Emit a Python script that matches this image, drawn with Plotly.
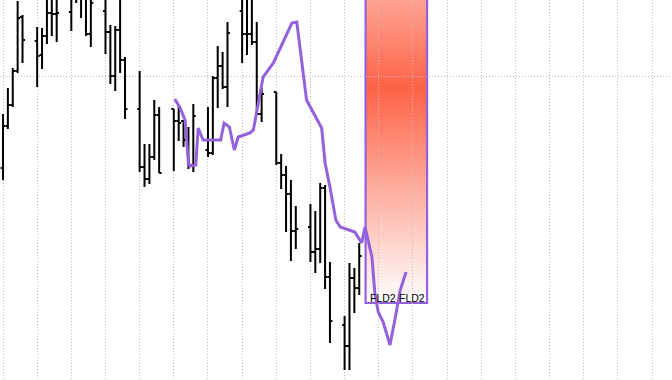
import pandas as pd
import plotly.graph_objects as go

# ---------------- data ----------------
dates = [
    "2024-01-01", "2024-01-02", "2024-01-03", "2024-01-04", "2024-01-05",
    "2024-01-08", "2024-01-09", "2024-01-10", "2024-01-11", "2024-01-12",
    "2024-01-15", "2024-01-16", "2024-01-17", "2024-01-18", "2024-01-19",
    "2024-01-22", "2024-01-23", "2024-01-24", "2024-01-25", "2024-01-26",
    "2024-01-29", "2024-01-30", "2024-01-31", "2024-02-01", "2024-02-02",
    "2024-02-05", "2024-02-06", "2024-02-07", "2024-02-08", "2024-02-09",
    "2024-02-12", "2024-02-13", "2024-02-14", "2024-02-15", "2024-02-16",
    "2024-02-19", "2024-02-20", "2024-02-21", "2024-02-22", "2024-02-23",
    "2024-02-26", "2024-02-27", "2024-02-28", "2024-02-29", "2024-03-01",
    "2024-03-04", "2024-03-05", "2024-03-06", "2024-03-07", "2024-03-08",
    "2024-03-11", "2024-03-12", "2024-03-13", "2024-03-14",
]
open_ = [
    90.8, 95.0, 97.1, 100.5, 105.9,
    103.5, 102.1, 104.0, 106.3, 106.2,
    106.4, 108.2, 108.5, 108.0, 104.2,
    106.5, 104.4, 100.0, 104.6, 101.6,
    96.7, 90.9, 89.7, 91.9, 96.1,
    96.7, 95.5, 95.5, 93.6, 91.1,
    92.6, 92.3, 99.8, 101.0, 98.9,
    106.5, 104.2, 104.2, 103.4, 96.2,
    98.4, 91.3, 90.1, 88.2, 84.5,
    84.9, 82.4, 82.7, 88.8, 79.9,
    75.1, 73.0, 79.8, 78.8,
]
high = [
    96.2, 98.8, 100.8, 107.5, 106.1,
    104.9, 104.8, 108.6, 108.6, 108.6,
    109.0, 109.5, 109.5, 109.0, 109.0,
    108.5, 105.1, 105.0, 108.0, 101.9,
    100.5, 93.2, 93.2, 97.6, 96.9,
    96.7, 97.1, 95.6, 94.9, 97.2,
    96.9, 100.0, 103.0, 102.4, 105.4,
    108.5, 108.5, 108.5, 105.4, 98.8,
    98.4, 92.2, 91.0, 89.6, 87.0,
    87.2, 86.5, 89.3, 89.1, 81.4,
    76.0, 81.3, 80.8, 83.3,
]
low = [
    89.6, 94.7, 96.9, 100.3, 101.3,
    98.9, 100.7, 103.2, 104.0, 103.4,
    104.5, 107.3, 105.8, 104.0, 102.9,
    102.2, 99.2, 98.5, 100.3, 95.7,
    90.4, 88.9, 89.2, 91.6, 90.3,
    90.5, 93.5, 92.9, 90.7, 90.4,
    91.9, 92.1, 96.8, 98.7, 96.9,
    101.3, 102.1, 103.1, 96.2, 95.4,
    91.1, 88.7, 84.4, 81.5, 82.7,
    81.4, 80.3, 81.3, 78.7, 73.3,
    70.6, 70.6, 76.3, 78.1,
]
close = [
    95.0, 97.1, 100.5, 105.8, 103.6,
    102.0, 104.0, 106.3, 106.2, 106.3,
    108.0, 108.8, 107.9, 104.2, 107.3,
    104.4, 100.0, 104.6, 101.6, 96.7,
    90.9, 89.7, 91.9, 96.1, 90.3,
    95.5, 95.3, 93.6, 91.1, 96.0,
    92.3, 99.8, 101.0, 98.9, 104.3,
    104.2, 104.2, 103.4, 96.2, 98.2,
    91.3, 90.1, 88.2, 84.5, 84.7,
    82.4, 82.7, 88.8, 79.9, 75.5,
    73.0, 79.8, 78.8, 82.0,
]

# FLD2 line: offset in days from the first date, and value
fld_days = [
    35.2, 36.3, 37.3, 38.0, 38.3, 39.5, 40.0, 41.0, 44.6, 45.3,
    46.4, 47.4, 48.2, 50.6, 51.3, 51.6, 52.5, 53.3, 55.4, 59.2,
    60.2, 61.2, 62.2, 63.3, 65.3, 66.0, 67.0, 68.2, 69.1, 72.1,
    73.5, 74.2, 75.6, 76.2, 76.9, 77.9, 79.3, 80.3, 81.4, 82.6,
]
fld_values = [
    97.7, 96.8, 95.6, 91.3, 91.0, 91.1, 94.8, 93.6, 93.6, 95.3,
    94.9, 92.6, 93.9, 94.3, 94.6, 95.4, 98.1, 99.9, 101.3, 105.3,
    105.4, 101.6, 97.6, 96.6, 94.8, 91.3, 88.9, 85.6, 84.9, 84.4,
    83.3, 84.9, 81.9, 78.3, 76.4, 75.4, 73.1, 75.6, 78.6, 80.4,
]

# projected zone (days offset from first date, prices)
zone_start_day = 74.3
zone_end_day = 86.9
zone_low = 77.3
zone_high = 120.3
zone_label = "FLD2"

# view
view_start_day = -0.615
view_end_day = 137.09
y_range = [69.6, 107.6]

# ---------------- figure ----------------
t0 = pd.Timestamp(dates[0])
def day(d):
    return t0 + pd.to_timedelta(d, unit="D")

PURPLE = "#9461DC"

fig = go.Figure()
fig.add_trace(go.Ohlc(
    x=pd.to_datetime(dates), open=open_, high=high, low=low, close=close,
    increasing=dict(line=dict(color="black", width=2)),
    decreasing=dict(line=dict(color="black", width=2)),
    tickwidth=0.5, showlegend=False, hoverinfo="skip",
))
fig.add_trace(go.Scatter(
    x=[day(d) for d in fld_days], y=fld_values, mode="lines",
    line=dict(color=PURPLE, width=3), showlegend=False, hoverinfo="skip",
))

# gradient fill of the zone (white -> tomato -> white), below grid
shapes = []
n = 120
c_mid = (255, 99, 71)
span = zone_high - zone_low
mid = (zone_high + zone_low) / 2
for i in range(n):
    y0 = zone_low + span * i / n
    y1 = zone_low + span * (i + 1.6) / n
    yc = zone_low + span * (i + 0.5) / n
    t = min(1.0, abs(yc - mid) / (span / 2))
    col = tuple(round(c * (1 - t) + 255 * t) for c in c_mid)
    shapes.append(dict(
        type="rect", xref="x", yref="y", layer="below",
        x0=day(zone_start_day), x1=day(zone_end_day),
        y0=y0, y1=min(y1, zone_high),
        fillcolor="rgb(%d,%d,%d)" % col, line=dict(width=0),
    ))
shapes.append(dict(
    type="rect", xref="x", yref="y", layer="below",
    x0=day(zone_start_day), x1=day(zone_end_day), y0=zone_low, y1=zone_high,
    line=dict(color=PURPLE, width=2.2), fillcolor="rgba(0,0,0,0)",
))

annotations = [
    dict(x=day(zone_start_day), y=zone_low, text=zone_label, showarrow=False,
         xanchor="left", yanchor="bottom", xshift=2, yshift=-3,
         font=dict(family="Liberation Sans, Arial", size=10.5, color="black")),
    dict(x=day(zone_end_day), y=zone_low, text=zone_label, showarrow=False,
         xanchor="right", yanchor="bottom", xshift=0, yshift=-3,
         font=dict(family="Liberation Sans, Arial", size=10.5, color="black")),
]

grid = "#BEBEBE"
fig.update_layout(
    width=672, height=380, margin=dict(l=0, r=0, t=0, b=0),
    paper_bgcolor="white", plot_bgcolor="white",
    shapes=shapes, annotations=annotations, showlegend=False,
    xaxis=dict(
        type="date", range=[day(view_start_day), day(view_end_day)],
        tick0=dates[0], dtick=7 * 86400000,
        showgrid=True, gridcolor=grid, griddash="1px,2px", gridwidth=1,
        showticklabels=False, ticks="", zeroline=False, showline=False,
        rangeslider=dict(visible=False),
    ),
    yaxis=dict(
        range=y_range, tick0=0, dtick=50,
        showgrid=True, gridcolor=grid, griddash="1px,2px", gridwidth=1,
        showticklabels=False, ticks="", zeroline=False, showline=False,
    ),
)

fig.write_html("out.html")
